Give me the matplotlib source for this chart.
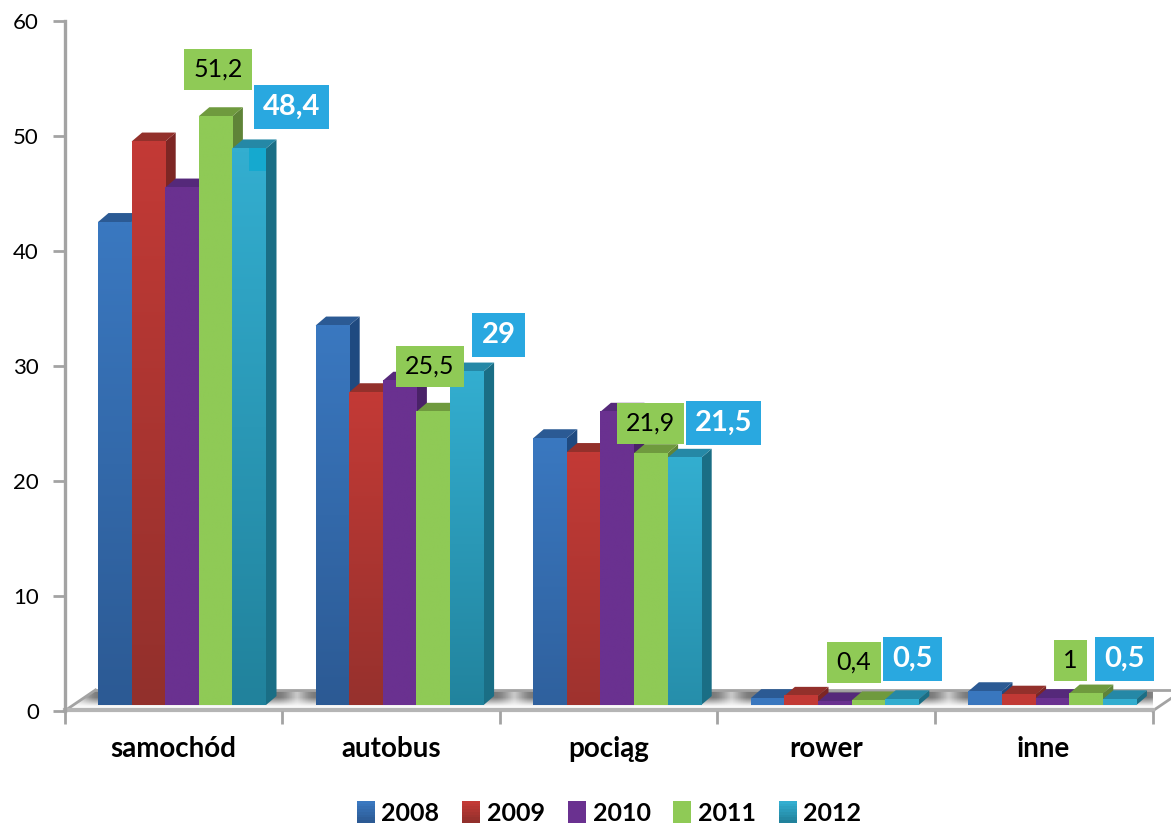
import numpy as np
import matplotlib
matplotlib.use("Agg")
import matplotlib.pyplot as plt
from matplotlib.colors import to_rgb
from matplotlib.legend_handler import HandlerBase
from matplotlib.patches import Patch, Polygon, Rectangle

plt.rcParams["font.family"] = ["Lato", "DejaVu Sans"]

# data
categories = ["samochód", "autobus", "pociąg", "rower", "inne"]
years = ["2008", "2009", "2010", "2011", "2012"]
v_2008 = [42.0, 33.0, 23.2, 0.6, 1.2]
v_2009 = [49.0, 27.2, 22.0, 0.8, 0.9]
v_2010 = [45.0, 28.2, 25.5, 0.3, 0.6]
v_2011 = [51.2, 25.5, 21.9, 0.4, 1.0]
v_2012 = [48.4, 29.0, 21.5, 0.5, 0.5]
series = [v_2008, v_2009, v_2010, v_2011, v_2012]
y_ticks = [0, 10, 20, 30, 40, 50, 60]

# colours: front top, front bottom, roof, side
front_top = ["#3a78c0", "#c33a36", "#6a3190", "#8fca56", "#33aed0"]
front_bot = ["#2c5a94", "#92302c", "#6a3190", "#8fca56", "#21829c"]
roof_col = ["#2b5a94", "#93302b", "#55297a", "#6f9a3e", "#2588a6"]
side_col = ["#1f4a80", "#7d2624", "#4a2268", "#5f8438", "#1a6e85"]
GRAY = "#a3a3a3"

# label placement, pixels from the top of the bar
green_off = [(2.4, 46.7), (-3.2, 45.2), (-0.3, 29.6), (-14.4, 37.9), (-15.5, 33)]
blue_off = [(42.3, 41.4), (31.7, 36.5), (39.1, 34.7), (10.5, 40.2), (4.9, 40.2)]

# geometry in data units (one category = 217.6 px, one y unit = 11.5 px)
PITCH = 217.6
bar_w = 33.6 / PITCH
bar_start = 33.5 / PITCH
depth_x = 10.5 / PITCH
depth_y = 0.78
base_y = 0.52
floor_x = 31 / PITCH
floor_y = 1.83


def mix(c1, c2, t):
    a, b = np.array(to_rgb(c1)), np.array(to_rgb(c2))
    return a + (b - a) * t


class GradientHandler(HandlerBase):
    def create_artists(self, legend, orig, xd, yd, w, h, fontsize, trans):
        n = 8
        out = []
        for k in range(n):
            col = mix(orig.get_facecolor(), orig.get_edgecolor(), k / (n - 1))
            out.append(Rectangle((-xd, -yd + h * (1 - (k + 1) / n)), w, h / n + 0.3,
                                 facecolor=col, edgecolor="none", transform=trans))
        return out


fig = plt.figure(figsize=(11.71, 8.23), dpi=100)
ax = fig.add_axes([64.5 / 1171, (823 - 711) / 823, 5 * PITCH / 1171, 690 / 823])

# floor
nx, ny = 700, 30
fx = np.linspace(0, 5 + floor_x, nx)
fy = np.linspace(0, 1, ny)
shade = np.zeros(nx)
for g in range(5):
    left = g + bar_start
    right = left + 5 * bar_w + depth_x
    d = np.maximum(np.maximum(left - fx, fx - right), 0)
    shade = np.maximum(shade, np.exp(-((d / 0.09) ** 2)))
rows = np.clip((fy - 0.22) / 0.4, 0, 1)
floor_img = 0.98 - 0.5 * np.outer(rows, shade)
floor_img = np.dstack([floor_img] * 3)
corners = [(0, 0), (5, 0), (5 + floor_x, floor_y), (floor_x, floor_y)]
floor_poly = Polygon(corners, closed=True, facecolor="none", edgecolor="none", transform=ax.transData)
ax.add_patch(floor_poly)
im = ax.imshow(floor_img, extent=[0, 5 + floor_x, 0, floor_y], origin="lower", aspect="auto", zorder=1)
im.set_clip_path(floor_poly)
ax.plot([floor_x, 5 + floor_x], [floor_y, floor_y], color=GRAY, lw=2, zorder=1.5, clip_on=False)
ax.plot([0, floor_x], [0, floor_y], color=GRAY, lw=2, zorder=1.5, clip_on=False)
ax.plot([5, 5 + floor_x], [0, floor_y], color=GRAY, lw=2, zorder=1.5, clip_on=False)
ax.plot([0, 5], [0.12, 0.12], color="#b5b5b5", lw=3, zorder=1.5, clip_on=False)

# bars, left to right so that each one covers the side of the previous
z = 2
for g in range(len(categories)):
    for i in range(len(series)):
        v = series[i][g]
        x0 = g + bar_start + i * bar_w
        x1 = x0 + bar_w
        top = base_y + v
        bottom_mix = min(1, v / 30)
        ax.add_patch(Polygon([(x1, base_y), (x1 + depth_x, base_y + depth_y),
                              (x1 + depth_x, top + depth_y), (x1, top)],
                             facecolor=side_col[i], edgecolor="none", zorder=z))
        ax.add_patch(Polygon([(x0, top), (x1, top), (x1 + depth_x, top + depth_y),
                              (x0 + depth_x, top + depth_y)],
                             facecolor=roof_col[i], edgecolor="none", zorder=z + 0.1))
        low = mix(front_top[i], front_bot[i], bottom_mix)
        grad = np.linspace(low, to_rgb(front_top[i]), 64).reshape(64, 1, 3)
        ax.bar(x0, v, bar_w, bottom=base_y, align="edge", color=front_top[i], zorder=z + 0.2)
        ax.imshow(grad, extent=[x0, x1, base_y, top], origin="lower", aspect="auto",
                  interpolation="bilinear", zorder=z + 0.3)
        z += 1

# small brighter patch on the tallest 2012 bar
ax.add_patch(Rectangle((bar_start + 4.5 * bar_w, base_y + v_2012[0] - 2), bar_w / 2, 2,
                       facecolor="#15a9cf", edgecolor="none", zorder=z))
z += 1

# value labels
for g in range(len(categories)):
    bar_g = g + bar_start
    for vals, idx, offs, col, tcol, size, weight, pad in [
        (v_2011, 3, green_off, "#8fca56", "black", 18, "normal", 0.37),
        (v_2012, 4, blue_off, "#29a8e0", "white", 21, "bold", 0.31),
    ]:
        xc = bar_g + (idx + 0.5) * bar_w
        ax.annotate(("%g" % vals[g]).replace(".", ","), xy=(xc, base_y + vals[g]), xytext=offs[g],
                    textcoords="offset pixels", ha="center", va="center", color=tcol,
                    fontsize=size, fontweight=weight, zorder=z, annotation_clip=False,
                    bbox=dict(boxstyle="square,pad=%g" % pad, facecolor=col, edgecolor="none"))

# axes
ax.set_xlim(0, 5)
ax.set_ylim(0, 60)
ax.set_yticks(y_ticks)
ax.tick_params(axis="y", length=9, width=2, color=GRAY, pad=9.5, labelsize=16)
ax.set_xticks(range(6))
ax.set_xticklabels([])
ax.tick_params(axis="x", which="major", length=9, width=2, color=GRAY)
ax.set_xticks(np.arange(5) + 0.5, minor=True)
ax.set_xticklabels(categories, minor=True, fontsize=20, fontweight="bold")
ax.tick_params(axis="x", which="minor", length=0, pad=18)
for name in ["top", "right", "bottom"]:
    ax.spines[name].set_visible(False)
ax.spines["left"].set_color(GRAY)
ax.spines["left"].set_linewidth(2.4)
ax.patch.set_alpha(0)

# legend
handles = [Patch(facecolor=front_top[i], edgecolor=front_bot[i], label=years[i]) for i in range(5)]
fig.legend(handles=handles, loc="center", bbox_to_anchor=(609 / 1171, 1 - 813 / 823), ncol=5,
           frameon=False, handler_map={Patch: GradientHandler()},
           prop={"size": 18, "weight": "bold"}, handlelength=0.72, handleheight=1.0,
           handletextpad=0.28, columnspacing=0.9, borderpad=0, borderaxespad=0)

fig.savefig("out.png", dpi=100)
